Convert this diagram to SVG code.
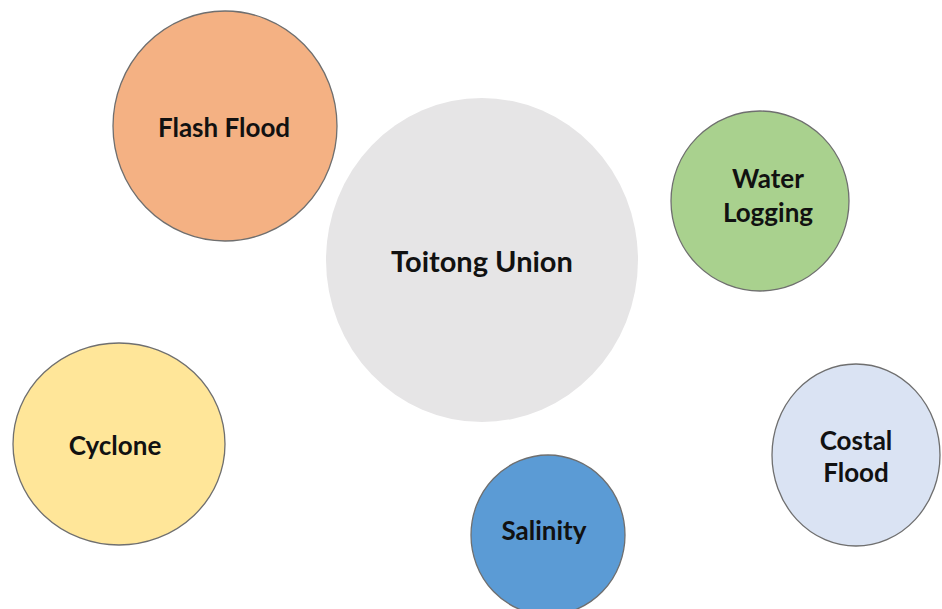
<svg xmlns="http://www.w3.org/2000/svg" width="942" height="609" viewBox="0 0 942 609">
  <style>
    .node { stroke: #6f6f6f; stroke-width: 1.3; }
    .label { font-family: Lato, "Open Sans", "Liberation Sans", sans-serif; font-weight: bold; font-size: 26px; fill: #111111; text-anchor: middle; dominant-baseline: central; }
  </style>
  <rect width="942" height="609" fill="#ffffff"/>

  <g id="connectors"></g>

  <g id="flash-flood">
    <ellipse class="node" cx="225" cy="126" rx="112" ry="115" fill="#F4B183"/>
    <text class="label" x="224" y="127">Flash Flood</text>
  </g>

  <g id="toitong-union">
    <ellipse cx="482" cy="260" rx="156" ry="162" fill="#E6E5E6"/>
    <text class="label" x="482" y="260" style="font-size:29px">Toitong Union</text>
  </g>

  <g id="water-logging">
    <ellipse class="node" cx="760" cy="201" rx="89" ry="90" fill="#A9D18E"/>
    <text class="label" x="768" y="178">Water</text>
    <text class="label" x="768" y="212">Logging</text>
  </g>

  <g id="cyclone">
    <ellipse class="node" cx="119" cy="444" rx="106" ry="101" fill="#FFE699"/>
    <text class="label" x="115" y="445">Cyclone</text>
  </g>

  <g id="costal-flood">
    <ellipse class="node" cx="856" cy="455" rx="84" ry="91" fill="#DAE3F3"/>
    <text class="label" x="856" y="440">Costal</text>
    <text class="label" x="856" y="472">Flood</text>
  </g>

  <g id="salinity">
    <ellipse class="node" cx="548" cy="535" rx="77" ry="80" fill="#5B9BD5"/>
    <text class="label" x="544" y="530">Salinity</text>
  </g>
</svg>
